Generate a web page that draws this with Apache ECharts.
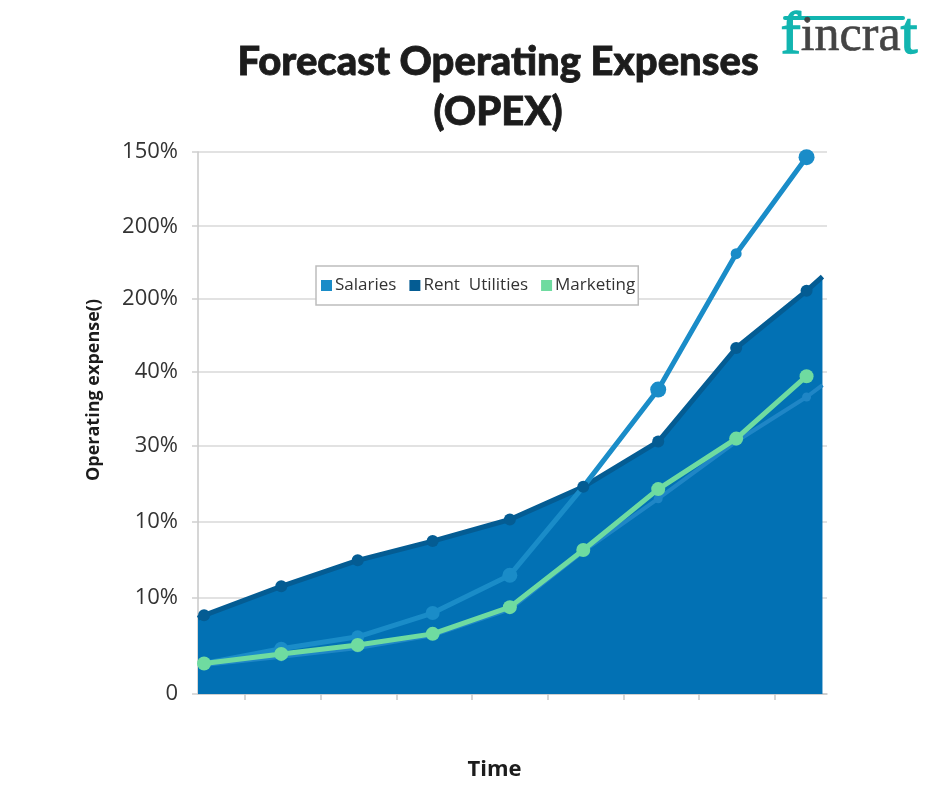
<!DOCTYPE html>
<html>
<head>
<meta charset="utf-8">
<style>html,body{margin:0;padding:0;background:#fff}#chart{width:940px;height:788px}</style>
<script src="https://cdn.jsdelivr.net/npm/echarts@6/dist/echarts.min.js"></script>
</head>
<body>
<div id="chart"></div>
<script>
// tick labels are as printed on the picture (not monotonic, the source is like that)
const yTicks = [0, 12.9, 23.2, 33.4, 43.4, 53.2, 63, 73];
const yTickLabels = ['0', '10%', '10%', '30%', '40%', '200%', '200%', '150%'];
const xTicks = [1, 2, 3, 4, 5, 6, 7, 8];

const timePoints = [0.46, 1.48, 2.49, 3.48, 4.5, 5.47, 6.46, 7.49, 8.42];
const rentEdges = [[0.38, 10.2], [8.63, 56.2]];
const lowerEdge = [8.63, 41.6];

const salaries = [4.1, 6.1, 7.7, 10.9, 16, 27.9, 41, 59.3, 72.3];
const rentUtilities = [10.6, 14.5, 18, 20.6, 23.5, 27.9, 34, 46.6, 54.3];
const marketing = [4.1, 5.4, 6.6, 8.1, 11.7, 19.4, 27.6, 34.4, 42.8];
const salariesLower = [3.9, 5, 6.2, 7.9, 11.4, 19.2, 26.3, 34, 40];

const salarySizes = [11, 14, 13, 14, 15, 0, 16, 11, 16];

function pairs(values) {
  return values.map((v, i) => [timePoints[i], v]);
}

const chart = echarts.init(document.getElementById('chart'));

const option = {
  animation: false,
  backgroundColor: '#fff',
  textStyle: { fontFamily: 'Open Sans' },
  title: {
    text: 'Forecast Operating Expenses\n(OPEX)',
    left: 493,
    top: 32,
    textAlign: 'center',
    textStyle: {
      fontFamily: 'Lato',
      fontWeight: 900,
      fontSize: 40,
      lineHeight: 50,
      color: '#1c1c1c',
      textBorderColor: '#1c1c1c',
      textBorderWidth: 0.8
    }
  },
  legend: {
    left: 316,
    top: 266,
    data: ['Salaries', 'Rent  Utilities', 'Marketing'],
    icon: 'rect',
    itemWidth: 11,
    itemHeight: 11,
    itemGap: 13,
    padding: [11, 3, 11, 5],
    backgroundColor: '#fff',
    borderColor: '#bdbdbd',
    borderWidth: 1.5,
    borderRadius: 0,
    textStyle: {
      fontFamily: 'Open Sans',
      fontSize: 17,
      color: '#333',
      padding: [0, 0, 0, -2]
    }
  },
  grid: { left: 198, right: 113, top: 152, bottom: 94 },
  xAxis: {
    type: 'value',
    min: 0.38,
    max: 8.69,
    name: 'Time',
    nameLocation: 'middle',
    nameGap: 65,
    nameTextStyle: {
      fontFamily: 'Open Sans',
      fontWeight: 700,
      fontSize: 22,
      color: '#1c1c1c',
      padding: [0, 36, 0, 0]
    },
    axisLine: { show: true, lineStyle: { color: '#c9c9c9', width: 1.5 } },
    axisTick: { show: true, customValues: xTicks, length: 6, lineStyle: { color: '#c9c9c9', width: 1.5 } },
    axisLabel: { show: false },
    splitLine: { show: false }
  },
  yAxis: {
    type: 'value',
    min: 0,
    max: 73,
    name: 'Operating expense()',
    nameLocation: 'middle',
    nameGap: 95,
    nameTextStyle: {
      fontFamily: 'Open Sans',
      fontWeight: 700,
      fontSize: 18,
      color: '#1c1c1c',
      padding: [0, 0, 0, 66]
    },
    axisLine: { show: true, lineStyle: { color: '#c9c9c9', width: 1.5 } },
    axisTick: { show: true, customValues: yTicks, length: 6, lineStyle: { color: '#cfcfcf', width: 1.5 } },
    axisLabel: {
      customValues: yTicks,
      margin: 20,
      fontFamily: 'Open Sans',
      fontSize: 22,
      color: '#333',
      formatter: v => yTickLabels[yTicks.indexOf(v)]
    },
    splitLine: { show: true, lineStyle: { color: '#d9d9d9', width: 1.5 } }
  },
  series: [
    {
      name: 'Rent  Utilities',
      type: 'line',
      z: 2,
      symbol: 'none',
      itemStyle: { color: '#045c93' },
      lineStyle: { color: '#045c93', width: 5 },
      areaStyle: { color: '#0271b4', opacity: 1 },
      data: [rentEdges[0], ...pairs(rentUtilities), rentEdges[1]]
    },
    {
      name: 'Salaries',
      type: 'line',
      z: 3,
      symbol: 'circle',
      symbolSize: (v, p) => salarySizes[p.dataIndex],
      itemStyle: { color: '#1a8cc8' },
      lineStyle: { color: '#1a8cc8', width: 5 },
      data: pairs(salaries)
    },
    {
      name: 'Salaries lower',
      type: 'line',
      z: 3,
      symbol: 'circle',
      symbolSize: 9,
      itemStyle: { color: '#1f86c6' },
      lineStyle: { color: '#1f86c6', width: 4 },
      data: [...pairs(salariesLower), { value: lowerEdge, symbol: 'none' }]
    },
    {
      // markers only, they sit over the salaries line where the two meet
      name: 'Rent  Utilities',
      type: 'line',
      z: 4,
      symbol: 'circle',
      symbolSize: 12,
      itemStyle: { color: '#045c93' },
      lineStyle: { width: 0, opacity: 0 },
      data: pairs(rentUtilities)
    },
    {
      name: 'Marketing',
      type: 'line',
      z: 4,
      symbol: 'circle',
      symbolSize: 14,
      itemStyle: { color: '#6fdba0' },
      lineStyle: { color: '#6fdba0', width: 5 },
      data: pairs(marketing)
    }
  ],
  graphic: [
    {
      type: 'rect',
      shape: { x: 783, y: 16, width: 122, height: 4, r: 2 },
      style: { fill: '#12b5b0' }
    },
    {
      type: 'text',
      left: 780,
      top: 6,
      style: {
        rich: {
          teal: { fontFamily: 'Liberation Serif', fontSize: 60, fill: '#12b5b0', stroke: '#12b5b0', lineWidth: 1.5 },
          dark: { fontFamily: 'Liberation Serif', fontSize: 50, fill: '#444', stroke: '#444', lineWidth: 0.6 }
        },
        text: '{teal|f}{dark|incra}{teal|t}'
      }
    }
  ]
};

chart.setOption(option);
</script>
</body>
</html>
